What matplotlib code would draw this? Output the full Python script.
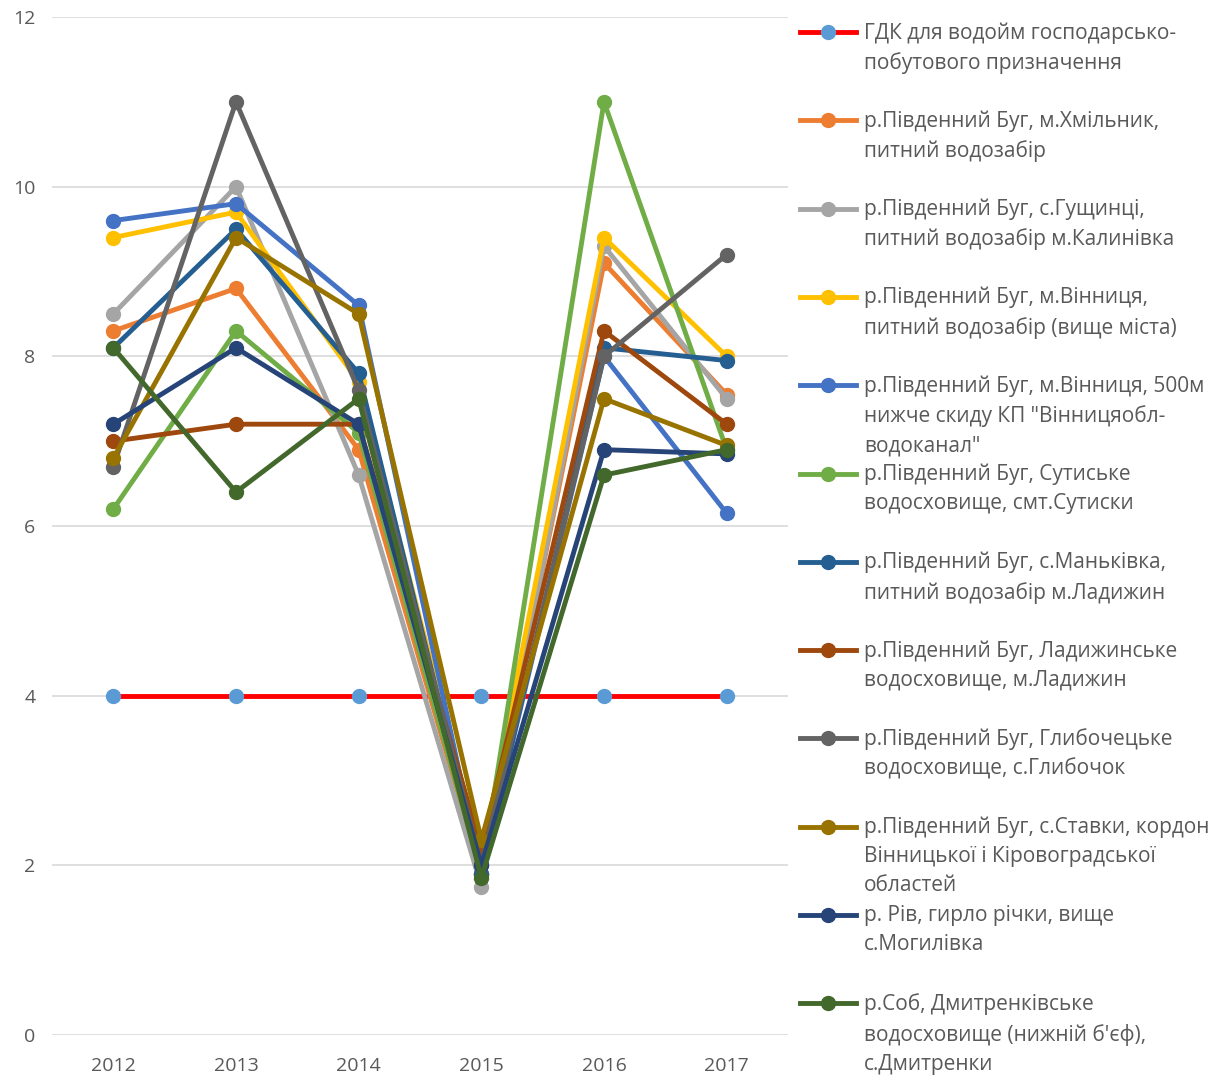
import matplotlib
matplotlib.use("Agg")
import matplotlib.pyplot as plt
from matplotlib.lines import Line2D

plt.rcParams['font.family'] = ['Open Sans', 'DejaVu Sans']

years = ["2012", "2013", "2014", "2015", "2016", "2017"]

labels = [
    "ГДК для водойм господарсько-\nпобутового призначення",
    "р.Південний Буг, м.Хмільник,\nпитний водозабір",
    "р.Південний Буг, с.Гущинці,\nпитний водозабір м.Калинівка",
    "р.Південний Буг, м.Вінниця,\nпитний водозабір (вище міста)",
    "р.Південний Буг, м.Вінниця, 500м\nнижче скиду КП \"Вінницяобл-\nводоканал\"",
    "р.Південний Буг, Сутиське\nводосховище, смт.Сутиски",
    "р.Південний Буг, с.Маньківка,\nпитний водозабір м.Ладижин",
    "р.Південний Буг, Ладижинське\nводосховище, м.Ладижин",
    "р.Південний Буг, Глибочецьке\nводосховище, с.Глибочок",
    "р.Південний Буг, с.Ставки, кордон\nВінницької і Кіровоградської\nобластей",
    "р. Рів, гирло річки, вище\nс.Могилівка",
    "р.Соб, Дмитренківське\nводосховище (нижній б'єф),\nс.Дмитренки",
]

gdk = [4, 4, 4, 4, 4, 4]
khmilnyk = [8.3, 8.8, 6.9, 1.9, 9.1, 7.55]
hushchyntsi = [8.5, 10.0, 6.6, 1.75, 9.3, 7.5]
vinnytsia_up = [9.4, 9.7, 7.7, 2.1, 9.4, 8.0]
vinnytsia_down = [9.6, 9.8, 8.6, 1.9, 8.0, 6.15]
sutyske = [6.2, 8.3, 7.1, 1.9, 11.0, 6.9]
mankivka = [8.1, 9.5, 7.8, 1.9, 8.1, 7.95]
ladyzhyn = [7.0, 7.2, 7.2, 2.2, 8.3, 7.2]
hlybochok = [6.7, 11.0, 7.6, 2.0, 8.0, 9.2]
stavky = [6.8, 9.4, 8.5, 2.3, 7.5, 6.95]
riv = [7.2, 8.1, 7.2, 2.0, 6.9, 6.85]
sob = [8.1, 6.4, 7.5, 1.85, 6.6, 6.9]

series = [gdk, khmilnyk, hushchyntsi, vinnytsia_up, vinnytsia_down, sutyske,
          mankivka, ladyzhyn, hlybochok, stavky, riv, sob]

line_colors = ["#FF0000", "#ED7D31", "#A5A5A5", "#FFC000", "#4472C4", "#70AD47",
               "#255E91", "#9E480E", "#636363", "#997300", "#264478", "#43682B"]
marker_colors = ["#5B9BD5"] + line_colors[1:]

W, H = 1214, 1077
fig = plt.figure(figsize=(W / 100, H / 100), dpi=100)
ax = fig.add_axes([52 / W, 1 - 1035 / H, (788 - 52) / W, (1035 - 17) / H])

x = list(range(len(years)))
for vals, lc, mc in zip(series, line_colors, marker_colors):
    ax.plot(x, vals, color=lc, linewidth=3.5, marker="o", markersize=10,
            markerfacecolor=mc, markeredgecolor=mc, solid_capstyle="round",
            zorder=3)

ax.set_xlim(-0.5, len(years) - 0.5)
ax.set_ylim(0, 12)
ax.set_yticks(range(0, 13, 2))
ax.set_xticks(x)
ax.set_xticklabels(years)
ax.grid(axis="y", color="#D9D9D9", linewidth=1.2, zorder=0)
ax.set_axisbelow(True)
for s in ax.spines.values():
    s.set_visible(False)
ax.tick_params(axis="both", length=0, labelsize=14, colors="#595959")
ax.tick_params(axis="y", pad=12)
ax.tick_params(axis="x", pad=16)

# legend entries drawn in figure pixels
y0 = 32
step = 88.3
for i, (lab, lc, mc) in enumerate(zip(labels, line_colors, marker_colors)):
    yy = 1 - (y0 + i * step) / H
    fig.add_artist(Line2D([800 / W, 856 / W], [yy, yy], color=lc, linewidth=3.5,
                          transform=fig.transFigure))
    fig.add_artist(Line2D([828 / W], [yy], marker="o", markersize=10,
                          markerfacecolor=mc, markeredgecolor=mc,
                          transform=fig.transFigure))
    fig.text(864 / W, yy + 10 / H, lab, ha="left", va="top", fontsize=15,
             color="#595959", linespacing=1.5)

fig.savefig("out.png", dpi=100, facecolor="white")
